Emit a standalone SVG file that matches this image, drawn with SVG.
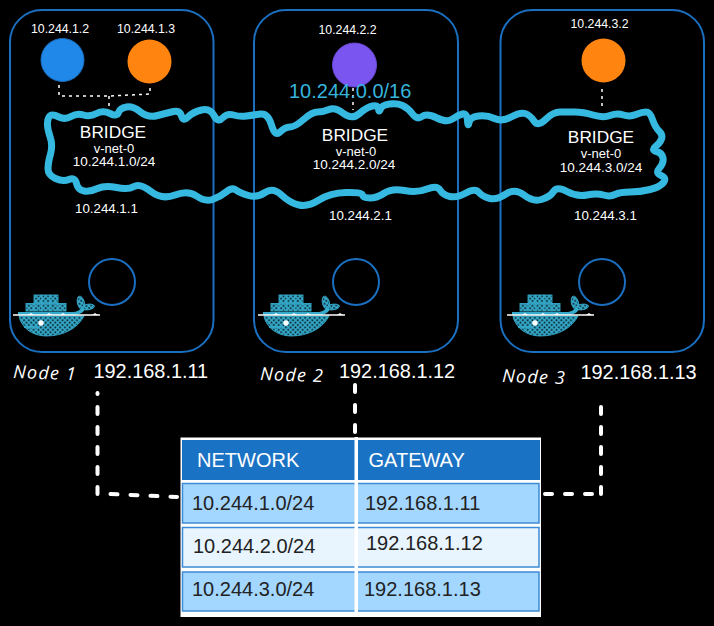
<svg xmlns="http://www.w3.org/2000/svg" width="714" height="626" viewBox="0 0 714 626">
<style>
text{font-family:"Liberation Sans",Arial,sans-serif;fill:#fff}
.box{fill:none;stroke:#1a6fc0;stroke-width:2}
.ring{fill:none;stroke:#1a6fc0;stroke-width:2}
.ip{font-size:12.3px}
.br{font-size:17.3px;text-anchor:middle}
.vn{font-size:13px;text-anchor:middle}
.cidr{font-size:13.5px;text-anchor:middle}
.gw{font-size:13.3px}
.host{font-size:19.9px}
.hand{font-family:"Open Sans",sans-serif;font-style:italic;font-weight:400;font-size:18px;letter-spacing:1.2px}
.dot{fill:none;stroke:#fff;stroke-width:1.5;stroke-dasharray:3 4}
.dash{fill:none;stroke:#fff;stroke-width:4;stroke-linecap:round;stroke-dasharray:7 13}
.row{stroke:#3d8ad6;stroke-width:1.5}
.hd{font-size:20px}
.cell{font-size:20px;fill:#222}
.cg{font-size:20px;fill:#222}
</style>
<defs>
<pattern id="hatch" width="3.4" height="3.4" patternUnits="userSpaceOnUse" patternTransform="rotate(45)">
<rect width="3.4" height="3.4" fill="#35aacb"/><rect x="1.2" y="1.2" width="1.7" height="1.7" fill="#04161c"/>
</pattern>
<g id="whale">
<g fill="url(#hatch)" stroke="#35aacb" stroke-width=".9">
<rect x="34" y="295" width="8" height="7.5"/><rect x="42" y="295" width="8" height="7.5"/><rect x="50" y="295" width="8" height="7.5"/>
<rect x="26" y="303.500" width="8" height="7.500"/><rect x="34" y="303.500" width="8" height="7.500"/><rect x="42" y="303.500" width="8" height="7.500"/><rect x="50" y="303.500" width="8" height="7.500"/><rect x="58" y="303.500" width="8" height="7.500"/>
<path d="M19 316H84C78 328 64 336 46 336C32 336 21 327 19 316Z"/>
<ellipse cx="81" cy="303" rx="3.500" ry="7" transform="rotate(-15 81 303)"/>
<ellipse cx="88" cy="307" rx="6.500" ry="2.800" transform="rotate(-8 88 307)"/>
</g>
<path d="M18 312H72C77 312 80 310 82 307L85 309C83 313 79 315 74 315H18Z" fill="#35aacb"/>
<path d="M13 315H100" stroke="#fff" stroke-width="1.500"/>
<path d="M28 315l3-2 3 2M46 315l3-2 3 2M60 315l3-2 3 2M92 315l3-2 3 2" fill="#fff"/>
<path d="M24 327H38" stroke="#35aacb" stroke-width="1.800" fill="none"/>
<circle cx="41" cy="323" r="2.700" fill="#fff"/>
</g>
</defs>
<rect width="714" height="626" fill="#000"/>
<g id="node-1">
<rect class="box" x="10" y="10" width="203.500" height="342" rx="32"/>
<text class="ip" x="31" y="33">10.244.1.2</text>
<text class="ip" x="117" y="33">10.244.1.3</text>
<circle cx="62.500" cy="60" r="21.500" fill="#2088e8" stroke="#1a6fc0"/>
<circle cx="149.500" cy="61.500" r="22" fill="#ff8510"/>
<text class="br" x="113" y="138">BRIDGE</text>
<text class="vn" x="114" y="153">v-net-0</text>
<text class="cidr" x="114" y="166">10.244.1.0/24</text>
<text class="gw" x="75" y="213">10.244.1.1</text>
<circle class="ring" cx="112" cy="282" r="23"/>
<use href="#whale"/>
<text class="hand" x="13" y="378" transform="rotate(2 13 378)">Node 1</text>
<text class="host" x="93.500" y="378">192.168.1.11</text>
</g>
<g id="node-2">
<rect class="box" x="254" y="10" width="204" height="342" rx="32"/>
<text class="ip" x="318.500" y="34">10.244.2.2</text>
<circle cx="354.500" cy="65" r="22" fill="#7a55f0" stroke="#6a48d0"/>
<text class="br" x="355" y="141">BRIDGE</text>
<text class="vn" x="356" y="156">v-net-0</text>
<text class="cidr" x="354" y="169">10.244.2.0/24</text>
<text class="gw" x="329" y="220">10.244.2.1</text>
<circle class="ring" cx="356" cy="282" r="23"/>
<use href="#whale" x="245"/>
<text class="hand" x="260" y="380" transform="rotate(2 260 380)">Node 2</text>
<text class="host" x="339" y="378">192.168.1.12</text>
</g>
<g id="node-3">
<rect class="box" x="500.500" y="10" width="203.500" height="342" rx="32"/>
<text class="ip" x="570.500" y="28">10.244.3.2</text>
<circle cx="603.500" cy="60.500" r="22" fill="#ff8510"/>
<text class="br" x="601" y="143">BRIDGE</text>
<text class="vn" x="601" y="158">v-net-0</text>
<text class="cidr" x="601" y="172">10.244.3.0/24</text>
<text class="gw" x="574" y="220">10.244.3.1</text>
<circle class="ring" cx="602" cy="282" r="23"/>
<use href="#whale" x="494"/>
<text class="hand" x="502" y="382" transform="rotate(2 502 382)">Node 3</text>
<text class="host" x="580.500" y="379">192.168.1.13</text>
</g>
<g id="connectors">
<path class="dot" d="M59 85V96L109 96L150 94V85M109 96V107"/>
<path class="dot" d="M353 88V110"/>
<path class="dot" d="M602 89V110"/>
<path class="dash" d="M97.500 393V494" stroke-dashoffset="6"/>
<path class="dash" d="M110.500 494L177 497"/>
<path class="dash" d="M355 385V437"/>
<path class="dash" d="M601 407V494"/>
<path class="dash" d="M592 494H545"/>
</g>
<g id="overlay-network">
<path d="M47.500 122.500Q48 117 50.500 115.500Q53 114 59 117Q65 120 71 116.500Q77 113 83.500 115Q90 117 96.500 113.500Q103 110 110 113.500Q117 117 118.500 112.500Q120 108 126.500 107Q133 106 140.500 112Q148 118 157.500 115.500Q167 113 173.500 111.500Q180 110 181.500 116Q183 122 188 117Q193 112 201.500 110Q210 108 214 115.500Q218 123 222.500 118Q227 113 233.500 115Q240 117 246.500 116Q253 115 260.500 114Q268 113 271.500 125Q275 137 280 132Q285 127 290 127Q295 127 303.500 119.500Q312 112 317.500 112Q323 112 329 109.500Q335 107 343.500 113.500Q352 120 359.500 113.500Q367 107 372.500 106Q378 105 378.500 109Q379 113 380.500 109Q382 105 389.500 104Q397 103 402.500 105.500Q408 108 412.500 114Q417 120 422 116.500Q427 113 437 118Q447 123 452.500 119Q458 115 462.500 114Q467 113 467.500 120.500Q468 128 469 122.500Q470 117 478.500 116Q487 115 494.500 118.500Q502 122 511 117Q520 112 525 113.500Q530 115 534 121Q538 127 545.500 119.500Q553 112 560 112Q567 112 575 112Q583 112 593 115Q603 118 610 115.500Q617 113 623.500 115Q630 117 636 114.500Q642 112 646 112Q650 112 652.500 119.500Q655 127 659 131Q663 135 661.500 139Q660 143 655.500 146.500Q651 150 656.500 151.500Q662 153 663 158Q664 163 659.500 168Q655 173 661 175.500Q667 178 663.500 182.500Q660 187 650 189.500Q640 192 630 192Q620 192 615 194.500Q610 197 603.500 195Q597 193 587 195Q577 197 567 191.500Q557 186 553.500 191.500Q550 197 541.500 199.500Q533 202 524 195Q515 188 506 194Q497 200 490 198.500Q483 197 479 192.500Q475 188 466 193Q457 198 450 196.500Q443 195 440 190Q437 185 427 189Q417 193 404.500 190.500Q392 188 384.500 193Q377 198 370 198Q363 198 362.500 195Q362 192 346 192.500Q330 193 319 200Q308 207 299 205Q290 203 281.500 195Q273 187 265 192.500Q257 198 248.500 195.500Q240 193 236 190Q232 187 226 192Q220 197 212.500 199.500Q205 202 196.500 196Q188 190 175 195Q162 200 151 191.500Q140 183 134 186.500Q128 190 116.500 187.500Q105 185 97.500 188.500Q90 192 84 191Q78 190 76.500 183.500Q75 177 69 179.500Q63 182 55.500 178.500Q48 175 48 169Q48 163 50.500 154Q53 145 50 136.500Q47 128 47.500 122.500Z" fill="none" stroke="#36b9e0" stroke-width="7" stroke-linejoin="round"/>
<text x="289" y="98" font-size="20" style="fill:#36b4dc">10.244.0.0/16</text>
</g>
<g id="route-table">
<rect x="180.500" y="437.500" width="360.500" height="179.500" fill="#fff"/>
<rect x="182" y="440" width="358" height="40" fill="#1a72c4"/>
<rect class="row" x="182.500" y="483.500" width="356.500" height="39.500" fill="#a3d7ff"/>
<rect class="row" x="182.500" y="527.500" width="356.500" height="39.500" fill="#e8f5ff"/>
<rect class="row" x="182.500" y="572" width="356.500" height="39" fill="#a3d7ff"/>
<rect x="354.500" y="437" width="3.500" height="180" fill="#fff"/>
<text class="hd" x="197" y="467">NETWORK</text>
<text class="hd" x="368.500" y="467">GATEWAY</text>
<text class="cell" x="192" y="510">10.244.1.0/24</text>
<text class="cg" x="365" y="510">192.168.1.11</text>
<text class="cell" x="193" y="553">10.244.2.0/24</text>
<text class="cg" x="366" y="550">192.168.1.12</text>
<text class="cell" x="192" y="596">10.244.3.0/24</text>
<text class="cg" x="364" y="596">192.168.1.13</text>
</g>
</svg>
